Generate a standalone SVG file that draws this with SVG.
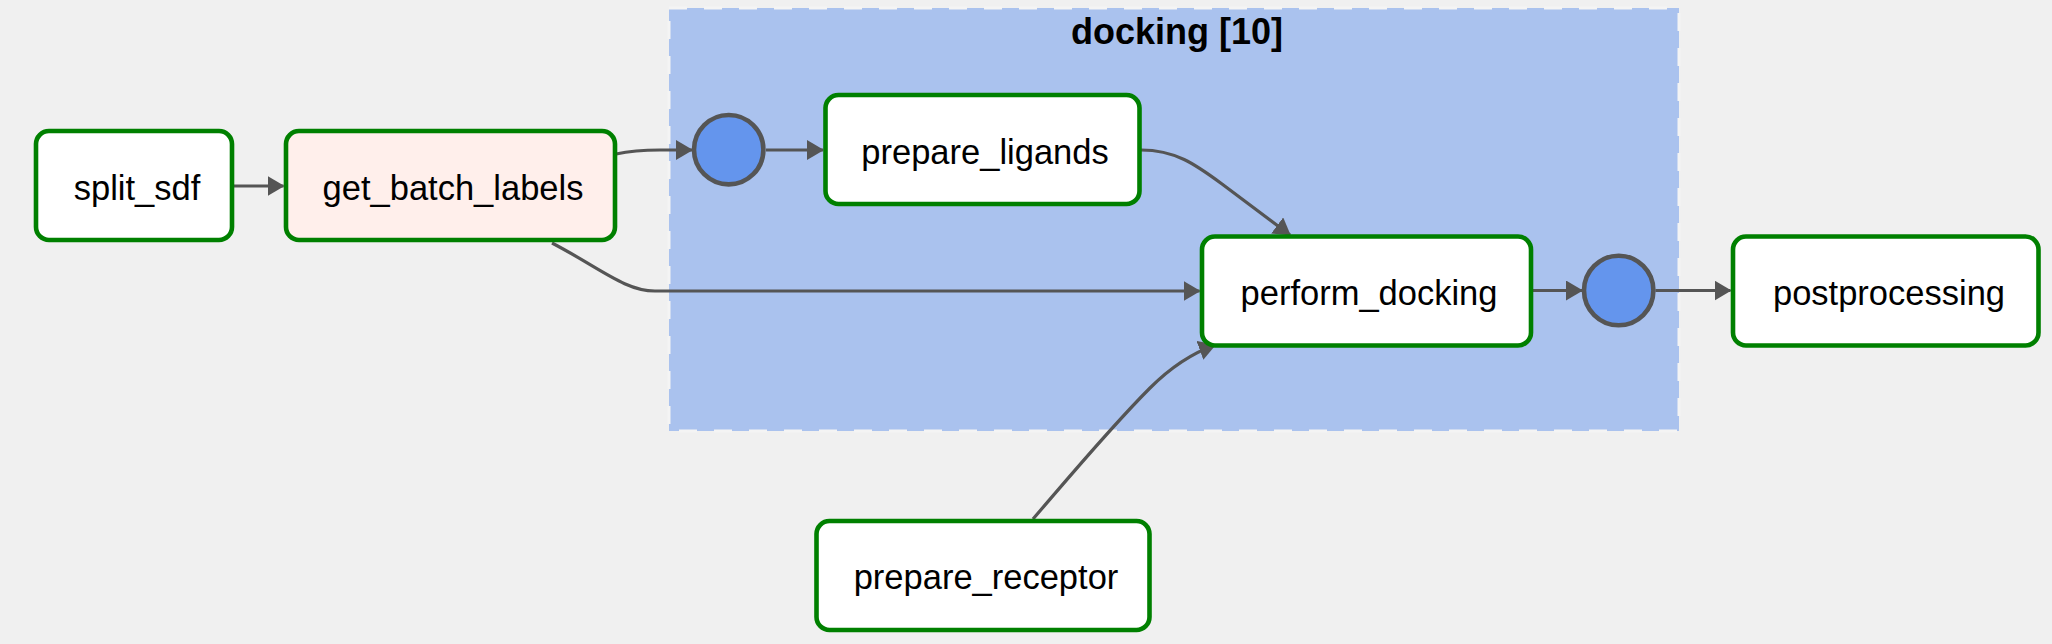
<svg xmlns="http://www.w3.org/2000/svg" width="2052" height="644" viewBox="0 0 2052 644">
<style>
.bg{fill:#f0f0f0}
.cluster{fill:#aac2ee;stroke:#f4f4f4;stroke-width:3;stroke-dasharray:18 17}
.ctitle{font-family:"Liberation Sans",Arial,sans-serif;font-size:36px;font-weight:bold;fill:#000;text-anchor:middle}
.node rect{stroke:#008000;stroke-width:4.6;fill:#fff}
.node.py rect{fill:#ffefeb}
.node text{font-family:"Liberation Sans",Arial,sans-serif;font-size:34.5px;fill:#000;text-anchor:middle}
.join circle{fill:#6495ed;stroke:#555;stroke-width:4.6}
.edges path{fill:none;stroke:#555;stroke-width:3.2;marker-end:url(#arrow)}
</style>
<defs>
<marker id="arrow" markerUnits="userSpaceOnUse" markerWidth="17" markerHeight="20" viewBox="0 0 17 20" refX="16" refY="10" orient="auto">
<path d="M0,0 L17,10 L0,20 z" fill="#555"/>
</marker>
</defs>
<rect class="bg" x="0" y="0" width="2052" height="644"/>
<g id="cluster-docking">
<rect class="cluster" x="669" y="8" width="1010" height="423"/>
<text class="ctitle" x="1177" y="44">docking [10]</text>
</g>
<g id="edges" class="edges">
<path d="M234,186 L283.5,186"/>
<path d="M616,154 C632,150.5 642,150 660,150 L692,150"/>
<path d="M766,150 L823,150"/>
<path d="M1141,150 C1175,150 1195,164 1222,184 L1290,235"/>
<path d="M552,243 C600,268 625,291 655,291 L1199.5,291"/>
<path d="M1033,519 C1065,482 1110,428 1150,388 C1170,368 1190,354 1215,345"/>
<path d="M1533,290.5 L1582,290.5"/>
<path d="M1655.5,290.5 L1730.5,290.5"/>
</g>
<g id="node-split_sdf" class="node">
<rect x="36" y="131" width="196" height="109" rx="13"/>
<text x="137" y="199.5">split_sdf</text>
</g>
<g id="node-get_batch_labels" class="node py">
<rect x="286" y="131" width="329" height="109" rx="13"/>
<text x="453" y="199.5">get_batch_labels</text>
</g>
<g id="node-join-upstream" class="join">
<circle cx="728.7" cy="149.7" r="34.7"/>
</g>
<g id="node-prepare_ligands" class="node">
<rect x="825.5" y="95" width="314" height="109" rx="13"/>
<text x="985" y="163.5">prepare_ligands</text>
</g>
<g id="node-perform_docking" class="node">
<rect x="1202" y="236.5" width="329" height="109" rx="13"/>
<text x="1369" y="304.5">perform_docking</text>
</g>
<g id="node-join-downstream" class="join">
<circle cx="1618.7" cy="290.5" r="34.7"/>
</g>
<g id="node-postprocessing" class="node">
<rect x="1733" y="236.5" width="305.5" height="109" rx="13"/>
<text x="1889" y="304.5">postprocessing</text>
</g>
<g id="node-prepare_receptor" class="node">
<rect x="816.5" y="521" width="333" height="109" rx="13"/>
<text x="986" y="589">prepare_receptor</text>
</g>
</svg>
